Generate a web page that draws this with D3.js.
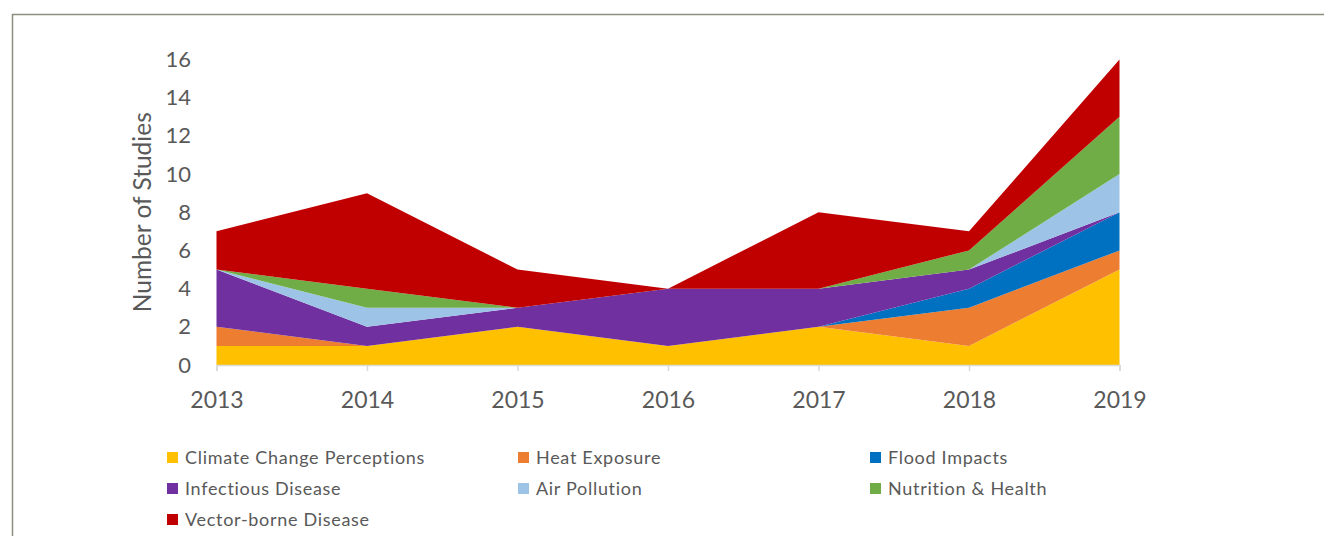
<!DOCTYPE html>
<html>
<head>
<meta charset="utf-8">
<script src="https://cdn.jsdelivr.net/npm/d3@7"></script>
<style>
  body { margin: 0; background: #fff; }
  svg { display: block; font-family: Lato, "Open Sans", sans-serif; }
</style>
</head>
<body>
<svg id="chart" width="1324" height="536"></svg>
<script>
'use strict';

var years = [2013, 2014, 2015, 2016, 2017, 2018, 2019];
var seriesNames = ['Climate Change Perceptions', 'Heat Exposure', 'Flood Impacts',
	'Infectious Disease', 'Air Pollution', 'Nutrition & Health', 'Vector-borne Disease'];
var climate    = [1, 1, 2, 1, 2, 1, 5];
var heat       = [1, 0, 0, 0, 0, 2, 1];
var flood      = [0, 0, 0, 0, 0, 1, 2];
var infectious = [3, 1, 1, 3, 2, 1, 0];
var air        = [0, 1, 0, 0, 0, 0, 2];
var nutrition  = [0, 1, 0, 0, 0, 1, 3];
var vector     = [2, 5, 2, 0, 4, 1, 3];
var yTicks = [0, 2, 4, 6, 8, 10, 12, 14, 16];
var colors = ['#ffc000', '#ed7d31', '#0070c0', '#7030a0', '#9dc3e6', '#70ad47', '#c00000'];

var values = [climate, heat, flood, infectious, air, nutrition, vector];
var table = years.map(function(y, i) {
	var row = {year: y};
	seriesNames.forEach(function(n, k) { row[n] = values[k][i]; });
	return row;
});

var svg = d3.select('#chart');

// outer frame
svg.append('path')
	.attr('d', 'M12.5,540 V14.5 H1330')
	.attr('fill', 'none')
	.attr('stroke', '#8c8e7e')
	.attr('stroke-width', 1.5);

var x = d3.scaleLinear().domain([2013, 2019]).range([216.5, 1119.5]);
var y = d3.scaleLinear().domain([0, 16]).range([365, 59.5]);

var stack = d3.stack().keys(seriesNames)(table);
var area = d3.area()
	.x(function(d) { return x(d.data.year); })
	.y0(function(d) { return y(d[0]); })
	.y1(function(d) { return y(d[1]); });

svg.append('g').selectAll('path')
	.data(stack)
	.enter().append('path')
		.attr('d', area)
		.attr('fill', function(d, i) { return colors[i]; });

// x axis
var xAxis = svg.append('g')
	.attr('transform', 'translate(0,365)')
	.call(d3.axisBottom(x).tickValues(years).tickFormat(d3.format('d')).tickSize(6).tickPadding(21));
xAxis.select('.domain').attr('stroke', '#d9d9d9').attr('stroke-width', 1.5);
xAxis.selectAll('.tick line').attr('stroke', '#d9d9d9').attr('stroke-width', 1.5);
xAxis.selectAll('text').attr('fill', '#595959').attr('font-size', '23px')
	.attr('font-family', 'Lato, "Open Sans", sans-serif');

// y axis labels only
var yAxis = svg.append('g')
	.attr('transform', 'translate(191,0)')
	.call(d3.axisLeft(y).tickValues(yTicks).tickSize(0).tickPadding(0));
yAxis.select('.domain').remove();
yAxis.selectAll('text').attr('fill', '#595959').attr('font-size', '22px')
	.attr('font-family', 'Lato, "Open Sans", sans-serif');

svg.append('text')
	.attr('transform', 'translate(151,' + ((y(0) + y(16)) / 2) + ') rotate(-90)')
	.attr('text-anchor', 'middle')
	.attr('fill', '#595959')
	.attr('font-size', '24.5px')
	.text('Number of Studies');

// legend
var colX = [167, 518, 870];
var rowY = [458, 489, 520];
var legend = svg.append('g').selectAll('g')
	.data(seriesNames)
	.enter().append('g')
		.attr('transform', function(d, i) {
			return 'translate(' + colX[i % 3] + ',' + rowY[Math.floor(i / 3)] + ')';
		});
legend.append('rect')
	.attr('x', 0).attr('y', -6)
	.attr('width', 11).attr('height', 11)
	.attr('fill', function(d, i) { return colors[i]; });
legend.append('text')
	.attr('x', 18).attr('y', 0)
	.attr('dy', '0.35em')
	.attr('fill', '#595959')
	.attr('font-size', '18px')
	.attr('letter-spacing', '0.7px')
	.text(function(d) { return d; });
</script>
</body>
</html>
